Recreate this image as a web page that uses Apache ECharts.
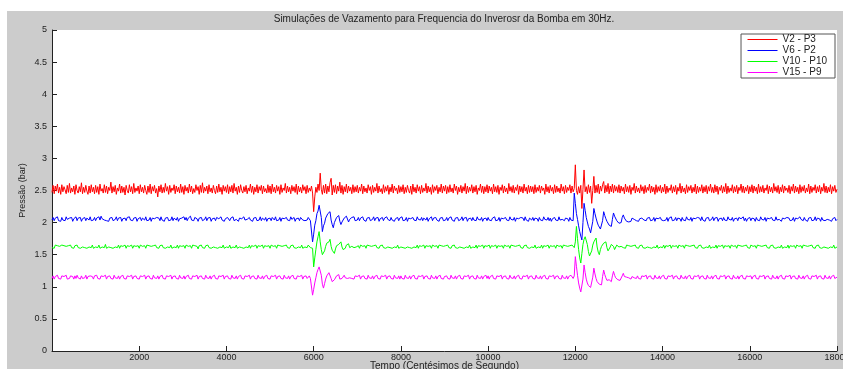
<!DOCTYPE html>
<html>
<head>
<meta charset="utf-8">
<script src="https://cdn.jsdelivr.net/npm/echarts@6/dist/echarts.min.js"></script>
<style>
html,body{margin:0;padding:0;background:#fff;}
#wrap{position:relative;width:843px;height:369px;overflow:hidden;}
#bg{position:absolute;left:7px;top:11px;right:0;bottom:0;background:#cccccc;}
#chart{position:absolute;left:0;top:0;width:843px;height:369px;}
</style>
</head>
<body>
<div id="wrap"><div id="bg"></div><div id="chart"></div></div>
<script>
// Sample spacing of the traces (centésimos de segundo)
const STEP = 25;
const seriesNames = ['V2 - P3', 'V6 - P2', 'V10 - P10', 'V15 - P9'];
const yTicks = [0, 0.5, 1, 1.5, 2, 2.5, 3, 3.5, 4, 4.5, 5];
const xTicks = [2000, 4000, 6000, 8000, 10000, 12000, 14000, 16000, 18000];

const v2p3 = [
2.47,2.58,2.45,2.57,2.49,2.60,2.46,2.55,2.44,2.59,2.48,2.56,2.51,2.45,2.58,2.47,2.61,2.46,2.54,2.48,2.57,2.44,2.59,2.50,2.46,2.56,2.48,2.62,2.45,2.55,2.47,2.58,2.49,2.44,2.57,2.46,2.59,2.48,2.55,2.45,
2.58,2.47,2.56,2.44,2.60,2.49,2.53,2.46,2.59,2.47,2.57,2.45,2.55,2.50,2.63,2.46,2.56,2.48,2.58,2.44,2.54,2.49,2.60,2.46,2.57,2.47,2.55,2.43,2.58,2.50,2.46,2.59,2.48,2.56,2.45,2.61,2.47,2.54,2.49,2.57,
2.45,2.59,2.48,2.55,2.46,2.58,2.50,2.44,2.57,2.47,2.60,2.45,2.56,2.49,2.58,2.46,2.53,2.40,2.57,2.48,2.59,2.46,2.55,2.47,2.61,2.49,2.56,2.44,2.58,2.47,2.54,2.50,2.59,2.45,2.57,2.48,2.55,2.46,2.60,2.47,
2.56,2.44,2.58,2.49,2.55,2.46,2.60,2.48,2.57,2.45,2.53,2.47,2.59,2.50,2.56,2.44,2.58,2.47,2.62,2.46,2.55,2.49,2.57,2.45,2.59,2.48,2.54,2.46,2.58,2.50,2.45,2.57,2.47,2.60,2.48,2.55,2.44,2.58,2.49,2.56,
2.47,2.59,2.45,2.56,2.48,2.58,2.46,2.61,2.49,2.55,2.44,2.57,2.47,2.59,2.50,2.46,2.56,2.48,2.58,2.45,2.54,2.49,2.60,2.47,2.57,2.44,2.55,2.48,2.59,2.46,2.56,2.50,2.58,2.45,2.57,2.48,2.53,2.46,2.59,2.47,
2.57,2.45,2.60,2.48,2.55,2.46,2.58,2.49,2.56,2.44,2.59,2.47,2.54,2.50,2.61,2.46,2.57,2.48,2.55,2.45,2.58,2.49,2.56,2.47,2.60,2.44,2.57,2.48,2.55,2.46,2.59,2.50,2.56,2.45,2.58,2.47,2.54,2.49,2.57,2.46,
2.17,2.40,2.55,2.47,2.60,2.50,2.77,2.52,2.44,2.58,2.46,2.60,2.45,2.57,2.48,2.62,2.69,2.43,2.58,2.47,2.59,2.45,2.57,2.49,2.63,2.46,2.58,2.44,2.56,2.48,2.60,2.46,2.57,2.49,2.55,2.45,2.59,2.47,2.56,2.48,
2.58,2.46,2.55,2.49,2.60,2.45,2.57,2.48,2.54,2.46,2.59,2.50,2.56,2.44,2.58,2.47,2.55,2.49,2.61,2.46,2.57,2.48,2.53,2.45,2.59,2.47,2.56,2.49,2.58,2.44,2.55,2.48,2.60,2.46,2.57,2.50,2.54,2.45,2.58,2.47,
2.56,2.48,2.59,2.45,2.55,2.47,2.58,2.50,2.46,2.57,2.44,2.60,2.48,2.55,2.46,2.59,2.49,2.56,2.45,2.58,2.47,2.54,2.49,2.61,2.46,2.57,2.48,2.55,2.44,2.59,2.47,2.56,2.50,2.58,2.45,2.55,2.48,2.60,2.46,2.57,
2.49,2.58,2.45,2.56,2.47,2.59,2.48,2.54,2.46,2.60,2.50,2.57,2.44,2.55,2.48,2.58,2.46,2.56,2.49,2.61,2.45,2.57,2.47,2.55,2.49,2.59,2.46,2.56,2.48,2.58,2.44,2.54,2.50,2.60,2.47,2.57,2.45,2.56,2.48,2.59,
2.46,2.57,2.49,2.55,2.45,2.60,2.48,2.56,2.47,2.58,2.44,2.55,2.50,2.59,2.46,2.57,2.48,2.54,2.45,2.61,2.49,2.56,2.47,2.58,2.46,2.55,2.50,2.59,2.44,2.57,2.48,2.56,2.46,2.60,2.49,2.55,2.45,2.58,2.47,2.57,
2.48,2.56,2.45,2.59,2.47,2.55,2.49,2.58,2.46,2.57,2.50,2.54,2.44,2.60,2.48,2.56,2.46,2.58,2.49,2.55,2.45,2.59,2.47,2.57,2.48,2.54,2.46,2.60,2.49,2.56,2.45,2.58,2.47,2.55,2.50,2.59,2.46,2.57,2.48,2.53,
2.90,2.50,2.44,2.56,2.46,2.58,2.22,2.52,2.82,2.48,2.56,2.45,2.59,2.47,2.57,2.30,2.50,2.72,2.46,2.58,2.47,2.60,2.45,2.57,2.49,2.59,2.64,2.46,2.58,2.48,2.61,2.45,2.57,2.48,2.60,2.46,2.58,2.49,2.56,2.47,
2.59,2.46,2.57,2.49,2.55,2.45,2.60,2.48,2.56,2.47,2.58,2.44,2.55,2.50,2.61,2.46,2.57,2.48,2.54,2.46,2.59,2.49,2.56,2.45,2.58,2.47,2.55,2.50,2.60,2.46,2.57,2.48,2.55,2.44,2.59,2.47,2.56,2.49,2.58,2.46,
2.55,2.48,2.60,2.45,2.57,2.47,2.54,2.50,2.59,2.46,2.56,2.48,2.58,2.44,2.55,2.49,2.61,2.46,2.57,2.48,2.54,2.45,2.59,2.47,2.56,2.50,2.58,2.46,2.55,2.48,2.60,2.45,2.57,2.47,2.55,2.49,2.59,2.46,2.56,2.48,
2.58,2.45,2.56,2.49,2.60,2.47,2.55,2.46,2.59,2.48,2.57,2.44,2.55,2.50,2.58,2.46,2.56,2.48,2.61,2.45,2.57,2.47,2.54,2.49,2.59,2.46,2.56,2.48,2.58,2.45,2.55,2.50,2.60,2.47,2.57,2.46,2.55,2.49,2.58,2.45,
2.56,2.48,2.59,2.46,2.57,2.49,2.55,2.45,2.60,2.47,2.56,2.48,2.58,2.46,2.54,2.50,2.59,2.45,2.57,2.48,2.55,2.46,2.61,2.49,2.56,2.47,2.58,2.45,2.55,2.48,2.59,2.46,2.57,2.50,2.54,2.47,2.58,2.45,2.56,2.49,
2.60,2.46,2.57,2.48,2.55,2.45,2.59,2.47,2.56,2.49,2.58,2.46,2.54,2.48,2.60,2.45,2.57,2.47,2.55,2.50,2.59,2.46,2.56,2.48,2.58,2.45,2.55,2.49,2.61,2.47,2.57,2.46,2.55,2.48,2.59,2.45,2.56,2.49,2.58,2.47,
2.52];

const v6p2 = [
2.04,2.08,2.03,2.07,2.05,2.09,2.03,2.06,2.02,2.08,2.04,2.07,2.03,2.09,2.05,2.03,2.07,2.04,2.08,2.02,2.06,2.04,2.09,2.03,2.07,2.05,2.08,2.02,2.06,2.04,2.08,2.03,2.07,2.05,2.04,2.09,2.03,2.06,2.04,2.08,
2.03,2.07,2.05,2.09,2.04,2.10,2.06,2.08,2.04,2.07,2.03,2.06,2.02,2.07,2.04,2.08,2.03,2.06,2.05,2.09,2.03,2.07,2.04,2.08,2.02,2.06,2.04,2.07,2.03,2.08,2.05,2.09,2.04,2.06,2.03,2.07,2.05,2.08,2.02,2.06,
2.04,2.08,2.03,2.07,2.05,2.04,2.09,2.03,2.06,2.04,2.08,2.02,2.07,2.04,2.06,2.03,2.08,2.05,2.07,2.03,2.09,2.04,2.06,2.02,2.07,2.05,2.08,2.03,2.06,2.04,2.09,2.03,2.07,2.05,2.04,2.08,2.02,2.06,2.04,2.07,
2.05,2.09,2.04,2.08,2.03,2.07,2.05,2.10,2.04,2.07,2.03,2.08,2.05,2.06,2.02,2.07,2.04,2.08,2.03,2.06,2.05,2.09,2.03,2.07,2.04,2.08,2.02,2.06,2.04,2.07,2.03,2.08,2.05,2.06,2.03,2.09,2.04,2.07,2.02,2.06,
2.04,2.08,2.05,2.03,2.07,2.04,2.09,2.03,2.06,2.05,2.08,2.02,2.07,2.04,2.06,2.03,2.09,2.04,2.07,2.05,2.03,2.08,2.04,2.06,2.02,2.07,2.05,2.08,2.03,2.06,2.04,2.09,2.03,2.07,2.05,2.04,2.08,2.02,2.06,2.04,
2.07,2.03,2.08,2.05,2.04,2.09,2.03,2.06,2.04,2.08,2.02,2.07,2.05,2.06,2.03,2.08,2.04,2.07,2.03,2.09,2.05,2.04,2.08,2.02,2.06,2.04,2.07,2.03,2.08,2.05,2.04,2.07,2.03,2.06,2.04,2.08,2.07,2.03,2.06,1.70,
1.82,1.96,2.03,2.14,2.18,2.27,2.30,2.08,1.86,1.95,1.99,2.07,2.08,2.14,2.13,2.17,2.04,1.97,1.92,2.00,2.02,2.08,2.07,2.11,2.02,1.97,2.01,2.04,2.07,2.06,2.10,2.08,2.01,2.05,2.03,2.08,2.05,2.09,2.03,2.06,
2.04,2.08,2.03,2.07,2.05,2.09,2.04,2.06,2.02,2.07,2.04,2.08,2.03,2.06,2.05,2.09,2.03,2.07,2.04,2.08,2.02,2.06,2.05,2.08,2.03,2.07,2.04,2.09,2.05,2.06,2.03,2.08,2.04,2.07,2.02,2.06,2.05,2.08,2.03,2.07,
2.05,2.09,2.03,2.06,2.04,2.08,2.02,2.07,2.05,2.06,2.03,2.08,2.04,2.07,2.03,2.09,2.05,2.06,2.04,2.08,2.03,2.07,2.05,2.04,2.08,2.02,2.06,2.04,2.09,2.03,2.07,2.05,2.08,2.04,2.06,2.02,2.07,2.04,2.08,2.03,
2.06,2.04,2.08,2.03,2.07,2.05,2.09,2.04,2.06,2.02,2.07,2.04,2.08,2.03,2.06,2.05,2.09,2.03,2.07,2.04,2.08,2.02,2.06,2.05,2.07,2.03,2.08,2.04,2.06,2.03,2.09,2.05,2.07,2.04,2.08,2.02,2.06,2.04,2.07,2.03,
2.08,2.04,2.06,2.03,2.07,2.05,2.09,2.03,2.06,2.04,2.08,2.02,2.07,2.05,2.06,2.03,2.08,2.04,2.07,2.03,2.09,2.05,2.06,2.04,2.08,2.02,2.07,2.04,2.06,2.03,2.08,2.05,2.07,2.03,2.09,2.04,2.06,2.02,2.07,2.05,
2.04,2.08,2.03,2.07,2.05,2.06,2.02,2.08,2.04,2.07,2.03,2.09,2.05,2.06,2.04,2.08,2.03,2.07,2.02,2.06,2.05,2.08,2.04,2.07,2.03,2.09,2.04,2.06,2.05,2.08,2.03,2.07,2.04,2.06,2.02,2.08,2.04,2.07,2.03,2.46,
2.30,2.14,2.05,1.95,1.86,1.79,1.73,2.00,2.30,2.19,2.08,2.01,1.94,1.90,1.84,1.81,2.02,2.22,2.14,2.07,2.01,1.96,1.93,1.90,1.88,2.03,2.17,2.11,2.06,2.02,1.99,1.96,1.97,1.94,2.05,2.15,2.10,2.07,2.03,2.01,
1.99,2.02,2.00,2.08,2.12,2.07,2.05,2.02,2.04,2.01,2.03,2.02,2.07,2.09,2.05,2.07,2.03,2.05,2.02,2.06,2.04,2.07,2.08,2.04,2.06,2.03,2.07,2.05,2.08,2.03,2.06,2.04,2.08,2.02,2.07,2.05,2.06,2.03,2.08,2.04,
2.07,2.03,2.06,2.04,2.08,2.02,2.07,2.05,2.09,2.03,2.06,2.04,2.08,2.03,2.07,2.05,2.06,2.02,2.08,2.04,2.07,2.03,2.09,2.05,2.06,2.04,2.08,2.02,2.07,2.04,2.06,2.03,2.08,2.05,2.07,2.03,2.09,2.04,2.06,2.02,
2.07,2.04,2.08,2.03,2.06,2.05,2.09,2.03,2.07,2.04,2.08,2.02,2.06,2.05,2.07,2.03,2.08,2.04,2.06,2.03,2.09,2.05,2.07,2.04,2.08,2.02,2.06,2.04,2.07,2.03,2.08,2.05,2.06,2.04,2.09,2.03,2.07,2.02,2.06,2.04,
2.08,2.03,2.07,2.05,2.06,2.02,2.08,2.04,2.07,2.03,2.09,2.05,2.06,2.04,2.08,2.02,2.07,2.05,2.06,2.03,2.08,2.04,2.07,2.03,2.09,2.04,2.06,2.05,2.08,2.02,2.07,2.04,2.06,2.03,2.08,2.05,2.07,2.03,2.06,2.04,
2.08,2.02,2.07,2.04,2.06,2.03,2.09,2.05,2.07,2.03,2.08,2.04,2.06,2.02,2.07,2.05,2.08,2.03,2.06,2.04,2.09,2.03,2.07,2.05,2.06,2.02,2.08,2.04,2.07,2.03,2.06,2.05,2.08,2.04,2.07,2.02,2.06,2.04,2.08,2.03,
2.05];

const v10p10 = [
1.61,1.64,1.60,1.65,1.62,1.64,1.61,1.63,1.60,1.65,1.62,1.64,1.61,1.63,1.60,1.64,1.62,1.65,1.61,1.63,1.60,1.64,1.62,1.65,1.61,1.64,1.60,1.63,1.62,1.65,1.61,1.64,1.60,1.63,1.62,1.64,1.61,1.65,1.60,1.63,
1.62,1.64,1.61,1.65,1.60,1.63,1.62,1.64,1.61,1.66,1.60,1.63,1.62,1.65,1.61,1.64,1.60,1.63,1.62,1.64,1.61,1.65,1.60,1.64,1.62,1.63,1.61,1.65,1.60,1.64,1.62,1.63,1.61,1.65,1.60,1.64,1.62,1.63,1.61,1.64,
1.60,1.65,1.62,1.63,1.61,1.64,1.60,1.65,1.62,1.64,1.61,1.63,1.60,1.64,1.62,1.65,1.61,1.63,1.60,1.64,1.62,1.65,1.61,1.64,1.60,1.63,1.62,1.64,1.61,1.65,1.60,1.63,1.62,1.64,1.61,1.65,1.60,1.64,1.62,1.63,
1.61,1.64,1.60,1.65,1.62,1.63,1.61,1.64,1.60,1.65,1.62,1.64,1.61,1.63,1.59,1.64,1.62,1.65,1.61,1.63,1.60,1.64,1.62,1.65,1.61,1.64,1.60,1.63,1.62,1.65,1.61,1.64,1.60,1.63,1.62,1.64,1.61,1.65,1.60,1.63,
1.62,1.64,1.61,1.65,1.60,1.63,1.62,1.64,1.61,1.65,1.60,1.63,1.62,1.65,1.61,1.64,1.60,1.63,1.62,1.64,1.61,1.65,1.60,1.64,1.62,1.63,1.61,1.65,1.60,1.64,1.62,1.63,1.61,1.65,1.60,1.64,1.62,1.63,1.61,1.64,
1.60,1.65,1.62,1.63,1.61,1.64,1.60,1.65,1.62,1.64,1.61,1.63,1.60,1.64,1.62,1.65,1.61,1.63,1.60,1.64,1.62,1.65,1.61,1.64,1.60,1.63,1.62,1.64,1.61,1.65,1.60,1.63,1.62,1.64,1.61,1.65,1.62,1.61,1.64,1.60,
1.31,1.45,1.58,1.70,1.78,1.86,1.70,1.58,1.50,1.47,1.56,1.63,1.68,1.71,1.70,1.74,1.63,1.57,1.54,1.52,1.59,1.64,1.67,1.66,1.68,1.70,1.62,1.58,1.56,1.60,1.65,1.63,1.67,1.61,1.59,1.63,1.65,1.61,1.64,1.62,
1.61,1.64,1.60,1.65,1.62,1.63,1.61,1.64,1.60,1.65,1.62,1.64,1.61,1.63,1.60,1.64,1.62,1.65,1.61,1.63,1.60,1.64,1.62,1.65,1.61,1.64,1.60,1.63,1.62,1.65,1.61,1.64,1.60,1.63,1.62,1.64,1.61,1.65,1.60,1.63,
1.62,1.65,1.61,1.64,1.60,1.63,1.62,1.65,1.61,1.64,1.60,1.63,1.62,1.64,1.61,1.65,1.60,1.64,1.62,1.63,1.61,1.65,1.60,1.64,1.62,1.63,1.61,1.64,1.60,1.65,1.62,1.63,1.61,1.64,1.60,1.65,1.62,1.64,1.61,1.63,
1.60,1.64,1.62,1.65,1.61,1.63,1.60,1.64,1.62,1.65,1.61,1.64,1.60,1.63,1.62,1.65,1.61,1.64,1.60,1.63,1.62,1.64,1.61,1.65,1.60,1.63,1.62,1.64,1.61,1.65,1.60,1.64,1.62,1.63,1.61,1.65,1.60,1.64,1.62,1.63,
1.61,1.65,1.60,1.64,1.62,1.63,1.61,1.65,1.60,1.64,1.62,1.63,1.61,1.64,1.60,1.65,1.62,1.63,1.61,1.64,1.60,1.65,1.62,1.64,1.61,1.63,1.60,1.64,1.62,1.65,1.61,1.63,1.60,1.64,1.62,1.65,1.61,1.64,1.60,1.63,
1.62,1.64,1.61,1.65,1.60,1.63,1.62,1.64,1.61,1.65,1.60,1.64,1.62,1.63,1.61,1.65,1.60,1.64,1.62,1.63,1.61,1.64,1.60,1.65,1.62,1.63,1.61,1.64,1.60,1.65,1.62,1.64,1.61,1.63,1.60,1.64,1.62,1.65,1.63,1.61,
1.70,1.94,1.75,1.58,1.45,1.37,1.52,1.66,1.74,1.78,1.81,1.66,1.55,1.48,1.45,1.56,1.65,1.70,1.73,1.76,1.62,1.54,1.50,1.58,1.63,1.66,1.68,1.67,1.70,1.61,1.56,1.58,1.62,1.66,1.68,1.63,1.58,1.61,1.65,1.67,
1.62,1.59,1.63,1.66,1.61,1.64,1.60,1.65,1.62,1.64,1.61,1.63,1.60,1.64,1.62,1.65,1.61,1.63,1.60,1.64,1.62,1.65,1.61,1.64,1.60,1.63,1.62,1.65,1.61,1.64,1.60,1.63,1.62,1.64,1.61,1.65,1.60,1.63,1.62,1.64,
1.61,1.65,1.60,1.64,1.62,1.63,1.61,1.65,1.60,1.64,1.62,1.63,1.61,1.64,1.60,1.65,1.62,1.63,1.61,1.64,1.60,1.65,1.62,1.64,1.61,1.63,1.60,1.64,1.62,1.65,1.61,1.63,1.60,1.64,1.62,1.65,1.61,1.64,1.60,1.63,
1.62,1.64,1.61,1.65,1.60,1.63,1.62,1.64,1.61,1.65,1.60,1.64,1.62,1.63,1.61,1.65,1.60,1.64,1.62,1.63,1.61,1.64,1.60,1.65,1.62,1.63,1.61,1.64,1.60,1.65,1.62,1.64,1.61,1.63,1.60,1.64,1.62,1.65,1.61,1.63,
1.60,1.65,1.62,1.63,1.61,1.64,1.60,1.65,1.62,1.64,1.61,1.63,1.60,1.64,1.62,1.65,1.61,1.63,1.60,1.64,1.62,1.65,1.61,1.64,1.60,1.63,1.62,1.64,1.61,1.65,1.60,1.63,1.62,1.64,1.61,1.65,1.60,1.64,1.62,1.63,
1.61,1.64,1.60,1.65,1.62,1.63,1.61,1.64,1.60,1.65,1.62,1.64,1.61,1.63,1.60,1.64,1.62,1.65,1.61,1.63,1.60,1.64,1.62,1.65,1.61,1.64,1.60,1.63,1.62,1.65,1.61,1.64,1.60,1.63,1.62,1.64,1.61,1.65,1.60,1.63,
1.62];

const v15p9 = [
1.13,1.17,1.12,1.16,1.14,1.18,1.13,1.16,1.12,1.17,1.14,1.16,1.13,1.18,1.12,1.15,1.13,1.17,1.14,1.16,1.12,1.17,1.13,1.18,1.14,1.16,1.12,1.17,1.13,1.16,1.14,1.18,1.12,1.16,1.13,1.17,1.14,1.16,1.12,1.17,
1.14,1.18,1.13,1.16,1.12,1.17,1.14,1.16,1.13,1.18,1.12,1.16,1.14,1.17,1.13,1.16,1.12,1.18,1.14,1.15,1.13,1.17,1.12,1.16,1.14,1.18,1.13,1.16,1.12,1.17,1.14,1.16,1.13,1.18,1.12,1.16,1.14,1.17,1.13,1.16,
1.12,1.17,1.14,1.16,1.13,1.18,1.12,1.16,1.14,1.17,1.13,1.16,1.12,1.18,1.14,1.16,1.13,1.17,1.12,1.16,1.14,1.18,1.13,1.16,1.12,1.17,1.14,1.16,1.13,1.18,1.12,1.16,1.14,1.17,1.13,1.16,1.12,1.18,1.14,1.16,
1.13,1.17,1.12,1.16,1.14,1.18,1.13,1.16,1.12,1.17,1.14,1.16,1.13,1.18,1.12,1.16,1.14,1.17,1.13,1.16,1.12,1.18,1.14,1.16,1.13,1.17,1.12,1.16,1.14,1.18,1.13,1.16,1.12,1.17,1.14,1.16,1.13,1.18,1.12,1.16,
1.14,1.17,1.13,1.16,1.12,1.18,1.14,1.16,1.13,1.17,1.12,1.16,1.14,1.18,1.13,1.16,1.12,1.17,1.14,1.16,1.13,1.18,1.12,1.16,1.14,1.17,1.13,1.16,1.12,1.18,1.14,1.16,1.13,1.17,1.12,1.16,1.14,1.18,1.13,1.16,
1.12,1.17,1.14,1.16,1.13,1.18,1.12,1.16,1.14,1.17,1.13,1.16,1.12,1.18,1.14,1.16,1.13,1.17,1.12,1.16,1.14,1.18,1.13,1.16,1.12,1.17,1.14,1.16,1.13,1.18,1.12,1.16,1.14,1.17,1.13,1.16,1.17,1.13,1.16,0.87,
0.96,1.06,1.14,1.22,1.27,1.31,1.34,1.18,1.04,0.98,1.05,1.12,1.17,1.20,1.22,1.24,1.13,1.08,1.06,1.11,1.14,1.17,1.16,1.19,1.12,1.10,1.13,1.16,1.18,1.14,1.17,1.13,1.16,1.14,1.17,1.13,1.16,1.12,1.17,1.14,
1.16,1.13,1.18,1.12,1.16,1.14,1.17,1.13,1.16,1.12,1.18,1.14,1.16,1.13,1.17,1.12,1.16,1.14,1.18,1.13,1.16,1.12,1.17,1.14,1.16,1.13,1.18,1.12,1.16,1.14,1.17,1.13,1.16,1.12,1.18,1.14,1.16,1.13,1.17,1.12,
1.17,1.13,1.16,1.12,1.18,1.14,1.16,1.13,1.17,1.12,1.16,1.14,1.18,1.13,1.16,1.12,1.17,1.14,1.16,1.13,1.18,1.12,1.16,1.14,1.17,1.13,1.16,1.12,1.18,1.14,1.16,1.13,1.17,1.12,1.16,1.14,1.18,1.13,1.16,1.12,
1.16,1.14,1.17,1.13,1.16,1.12,1.18,1.14,1.16,1.13,1.17,1.12,1.16,1.14,1.18,1.13,1.16,1.12,1.17,1.14,1.16,1.13,1.18,1.12,1.16,1.14,1.17,1.13,1.16,1.12,1.18,1.14,1.16,1.13,1.17,1.12,1.16,1.14,1.18,1.13,
1.17,1.12,1.16,1.14,1.18,1.13,1.16,1.12,1.17,1.14,1.16,1.13,1.18,1.12,1.16,1.14,1.17,1.13,1.16,1.12,1.18,1.14,1.16,1.13,1.17,1.12,1.16,1.14,1.18,1.13,1.16,1.12,1.17,1.14,1.16,1.13,1.18,1.12,1.16,1.14,
1.17,1.13,1.16,1.12,1.18,1.14,1.16,1.13,1.17,1.12,1.16,1.14,1.18,1.13,1.16,1.12,1.17,1.14,1.16,1.13,1.18,1.12,1.16,1.14,1.17,1.13,1.16,1.12,1.18,1.14,1.16,1.13,1.17,1.12,1.16,1.14,1.18,1.16,1.13,1.17,
1.47,1.32,1.18,1.06,0.98,0.92,0.89,1.12,1.34,1.22,1.12,1.06,1.02,1.00,0.99,0.98,1.15,1.29,1.20,1.13,1.08,1.06,1.04,1.05,1.03,1.16,1.26,1.19,1.14,1.10,1.09,1.11,1.08,1.08,1.17,1.24,1.18,1.14,1.12,1.11,
1.13,1.10,1.10,1.17,1.21,1.16,1.13,1.15,1.12,1.14,1.12,1.12,1.16,1.19,1.14,1.16,1.13,1.17,1.13,1.16,1.12,1.17,1.14,1.16,1.13,1.18,1.12,1.16,1.14,1.17,1.13,1.16,1.12,1.18,1.14,1.16,1.13,1.17,1.12,1.16,
1.14,1.18,1.13,1.16,1.12,1.17,1.14,1.16,1.13,1.18,1.12,1.16,1.14,1.17,1.13,1.16,1.12,1.18,1.14,1.16,1.13,1.17,1.12,1.16,1.14,1.18,1.13,1.16,1.12,1.17,1.14,1.16,1.13,1.18,1.12,1.16,1.14,1.17,1.13,1.16,
1.12,1.18,1.14,1.16,1.13,1.17,1.12,1.16,1.14,1.18,1.13,1.16,1.12,1.17,1.14,1.16,1.13,1.18,1.12,1.16,1.14,1.17,1.13,1.16,1.12,1.18,1.14,1.16,1.13,1.17,1.12,1.16,1.14,1.18,1.13,1.16,1.12,1.17,1.14,1.16,
1.13,1.17,1.12,1.16,1.14,1.18,1.13,1.16,1.12,1.17,1.14,1.16,1.13,1.18,1.12,1.16,1.14,1.17,1.13,1.16,1.12,1.18,1.14,1.16,1.13,1.17,1.12,1.16,1.14,1.18,1.13,1.16,1.12,1.17,1.14,1.16,1.13,1.18,1.12,1.16,
1.14,1.17,1.13,1.16,1.12,1.18,1.14,1.16,1.13,1.17,1.12,1.16,1.14,1.18,1.13,1.16,1.12,1.17,1.14,1.16,1.13,1.18,1.12,1.16,1.14,1.17,1.13,1.16,1.12,1.18,1.14,1.16,1.13,1.17,1.12,1.16,1.14,1.18,1.13,1.16,
1.15];

const colors = ['#ff0000', '#0000ff', '#00ff00', '#ff00ff'];
const allValues = [v2p3, v6p2, v10p10, v15p9];

function toPairs(vals) { return vals.map((v, i) => [i * STEP, v]); }

const FONT = '"Liberation Sans", Arial, sans-serif';
const chart = echarts.init(document.getElementById('chart'), null, {renderer: 'canvas'});
chart.setOption({
  animation: false,
  backgroundColor: 'transparent',
  title: {
    text: 'Simulações de Vazamento para Frequencia do Inverosr da Bomba em 30Hz.',
    left: 444, top: 14, textAlign: 'center', padding: 0,
    textStyle: {fontFamily: FONT, fontSize: 10, fontWeight: 'normal', color: '#222'}
  },
  legend: {
    data: seriesNames,
    orient: 'vertical',
    right: 8, top: 34,
    padding: [0, 8, 0, 6],
    itemGap: 0,
    itemWidth: 30, itemHeight: 11,
    itemTextGap: 5,
    itemStyle: {opacity: 0},
    lineStyle: {width: 1},
    backgroundColor: '#fff',
    borderColor: '#555', borderWidth: 1,
    textStyle: {fontFamily: FONT, fontSize: 10, color: '#222', lineHeight: 11}
  },
  grid: {
    left: 52, right: 6, top: 30, bottom: 18,
    containLabel: false, outerBoundsMode: 'none',
    show: true, backgroundColor: '#fff', borderWidth: 0
  },
  xAxis: {
    type: 'value', min: 0, max: 18000, interval: 2000,
    name: 'Tempo (Centésimos de Segundo)', nameLocation: 'middle', nameGap: 10,
    nameMoveOverlap: false,
    nameTextStyle: {fontFamily: FONT, fontSize: 10, color: '#222'},
    axisLine: {lineStyle: {color: '#222', width: 1}},
    axisTick: {inside: true, length: 5, lineStyle: {color: '#222'}},
    axisLabel: {fontFamily: FONT, fontSize: 9, color: '#222', margin: 2,
      formatter: v => (xTicks.indexOf(v) >= 0 ? String(v) : '')},
    splitLine: {show: false}
  },
  yAxis: {
    type: 'value', min: 0, max: 5, interval: 0.5,
    name: 'Pressão (bar)', nameLocation: 'middle', nameGap: 25,
    nameMoveOverlap: false,
    nameTextStyle: {fontFamily: FONT, fontSize: 9, color: '#222'},
    axisLine: {show: true, lineStyle: {color: '#222', width: 1}},
    axisTick: {show: true, inside: true, length: 5, lineStyle: {color: '#222'}},
    axisLabel: {fontFamily: FONT, fontSize: 9, color: '#222', margin: 5,
      formatter: v => (yTicks.indexOf(v) >= 0 ? String(v) : '')},
    splitLine: {show: false}
  },
  series: allValues.map((vals, k) => ({
    name: seriesNames[k],
    type: 'line',
    data: toPairs(vals),
    symbol: 'none',
    showSymbol: false,
    sampling: null,
    color: colors[k],
    lineStyle: {color: colors[k], width: 1},
    emphasis: {disabled: true}
  }))
});
</script>
</body>
</html>
